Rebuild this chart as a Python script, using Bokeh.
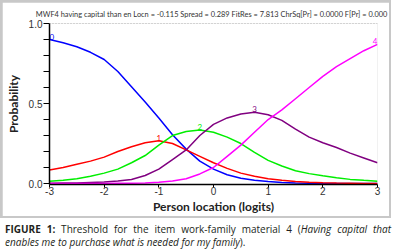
from bokeh.plotting import figure
from bokeh.models import Span, FixedTicker, Range1d, ColumnDataSource, Div
from bokeh.layouts import column
from bokeh.embed import file_html
from bokeh.resources import INLINE
from bokeh.core.properties import value

# ---- data ----
logits = [-3.0, -2.75, -2.5, -2.25, -2.0, -1.75, -1.5, -1.25, -1.0, -0.75, -0.5, -0.25,
          0.0, 0.25, 0.5, 0.75, 1.0, 1.25, 1.5, 1.75, 2.0, 2.25, 2.5, 2.75, 3.0]
cat0 = [0.90, 0.88, 0.855, 0.82, 0.775, 0.70, 0.605, 0.51, 0.41, 0.305, 0.215, 0.14,
        0.09, 0.055, 0.033, 0.02, 0.012, 0.007, 0.004, 0.002, 0.001, 0.001, 0.0005, 0.0003, 0.0002]
cat1 = [0.085, 0.10, 0.12, 0.14, 0.165, 0.20, 0.23, 0.255, 0.268, 0.25, 0.21, 0.17,
        0.13, 0.095, 0.065, 0.045, 0.03, 0.02, 0.013, 0.008, 0.005, 0.003, 0.002, 0.001, 0.001]
cat2 = [0.015, 0.02, 0.03, 0.045, 0.065, 0.09, 0.13, 0.175, 0.24, 0.30, 0.325, 0.335,
        0.32, 0.29, 0.25, 0.195, 0.145, 0.11, 0.08, 0.062, 0.048, 0.036, 0.026, 0.02, 0.015]
cat3 = [0.002, 0.003, 0.004, 0.007, 0.01, 0.016, 0.025, 0.05, 0.09, 0.15, 0.21, 0.30,
        0.37, 0.41, 0.435, 0.445, 0.43, 0.395, 0.34, 0.29, 0.255, 0.225, 0.19, 0.16, 0.13]
cat4 = [0.0, 0.0, 0.0, 0.0005, 0.001, 0.0015, 0.002, 0.004, 0.008, 0.016, 0.03, 0.06,
        0.10, 0.17, 0.24, 0.32, 0.40, 0.46, 0.53, 0.60, 0.67, 0.73, 0.78, 0.83, 0.87]
categories = ["0", "1", "2", "3", "4"]
series = [cat0, cat1, cat2, cat3, cat4]
colors = ["#0000ff", "#ff0000", "#00ee00", "#800080", "#ff00ff"]

x_ticks = [-3, -2, -1, 0, 1, 2, 3]
x_tick_labels = ["-3", "-2", "-1", "0", "1", "2", "3"]
y_ticks = [0.0, 0.5, 1.0]
y_tick_labels = ["0.0", "0.5", "1.0"]
y_minor = [0.1, 0.2, 0.3, 0.4, 0.6, 0.7, 0.8, 0.9]

title_text = "MWF4 having capital than en Locn = -0.115  Spread = 0.289 FitRes = 7.813  ChrSq[Pr] = 0.0000 F[Pr] = 0.000"
x_title = "Person location (logits)"
y_title = "Probability"
caption_bold = "FIGURE 1:"
caption_plain = "Threshold for the item work-family material 4 ("
caption_italic1 = "Having capital that"
caption_italic2 = "enables me to purchase what is needed for my family"
caption_end = ")."

# ---- layout ----
p = figure(frame_width=328, frame_height=161, output_backend="svg", toolbar_location=None,
           x_range=Range1d(-3, 3), y_range=Range1d(-0.006, 1.0),
           min_border_left=43, min_border_right=12, min_border_top=21, min_border_bottom=29,
           title=title_text, margin=(2, 2, 2, 2))
p.outline_line_color = None
p.xgrid.visible = False
p.ygrid.visible = False

p.title.align = "center"
p.title.text_font = "Lato"
p.title.text_font_size = "7.4px"
p.title.text_font_style = "normal"
p.title.text_color = "#333333"
p.title.standoff = 9
p.title.offset = -11

for ax in (p.xaxis[0], p.yaxis[0]):
    ax.axis_line_color = "black"
    ax.axis_line_width = 1.5
    ax.major_tick_line_color = "black"
    ax.minor_tick_line_color = "black"
    ax.major_label_text_font = "Liberation Sans"
    ax.major_label_text_font_size = "10px"
    ax.major_label_text_color = "#333333"
    ax.axis_label_text_font = "Lato"
    ax.axis_label_text_font_size = "12px"
    ax.axis_label_text_font_style = "bold"
    ax.axis_label_text_color = "#222222"

p.xaxis.ticker = FixedTicker(ticks=x_ticks)
p.xaxis.major_label_overrides = dict(zip(x_ticks, x_tick_labels))
p.xaxis.major_tick_in = 0
p.xaxis.major_tick_out = 3
p.xaxis.minor_tick_out = 0
p.xaxis.major_label_standoff = -1
p.xaxis.axis_label = x_title
p.xaxis.axis_label_standoff = 1

p.yaxis.ticker = FixedTicker(ticks=y_ticks, minor_ticks=y_minor)
p.yaxis.major_label_overrides = dict(zip(y_ticks, y_tick_labels))
p.yaxis.major_tick_in = 0
p.yaxis.major_tick_out = 6
p.yaxis.minor_tick_in = 0
p.yaxis.minor_tick_out = 6
p.yaxis.major_label_standoff = 1
p.yaxis.axis_label = y_title
p.yaxis.axis_label_standoff = 5

# dotted line at 1.0
p.add_layout(Span(location=1.0, dimension="width", line_color="#777777",
                  line_dash="1 2", line_width=1))

# curves
for name, ys, c in zip(categories, series, colors):
    p.line(logits, ys, line_color=c, line_width=1.5)

# curve labels at each curve's maximum
lx, ly, align = [], [], []
for name, ys in zip(categories, series):
    i = max(range(len(ys)), key=lambda k: ys[k])
    lx.append(logits[i])
    ly.append(ys[i])
    align.append("left" if i == 0 else ("right" if i == len(ys) - 1 else "center"))
src = ColumnDataSource(dict(x=lx, y=ly, t=categories, c=colors, a=align))
p.text(x="x", y="y", text="t", text_color="c", text_align="a", text_baseline="bottom",
       text_font=value("Lato"), text_font_size="8px", source=src)

framed = column(p, spacing=0, styles={"background-color": "#c8c8c8"})

caption = Div(
    text=('<div style="width:386px;white-space:nowrap;text-align:justify;text-align-last:justify">'
          f'<b>{caption_bold}</b> {caption_plain}<i>{caption_italic1}</i></div>'
          f'<div style="width:386px"><i>{caption_italic2}</i>{caption_end}</div>'),
    width=387, height=25,
    styles={"font-family": "Open Sans", "font-size": "10px", "line-height": "13px",
            "color": "#231f20"})

layout = column(framed, caption, spacing=0)
open("out.html", "w").write(file_html(layout, INLINE))
